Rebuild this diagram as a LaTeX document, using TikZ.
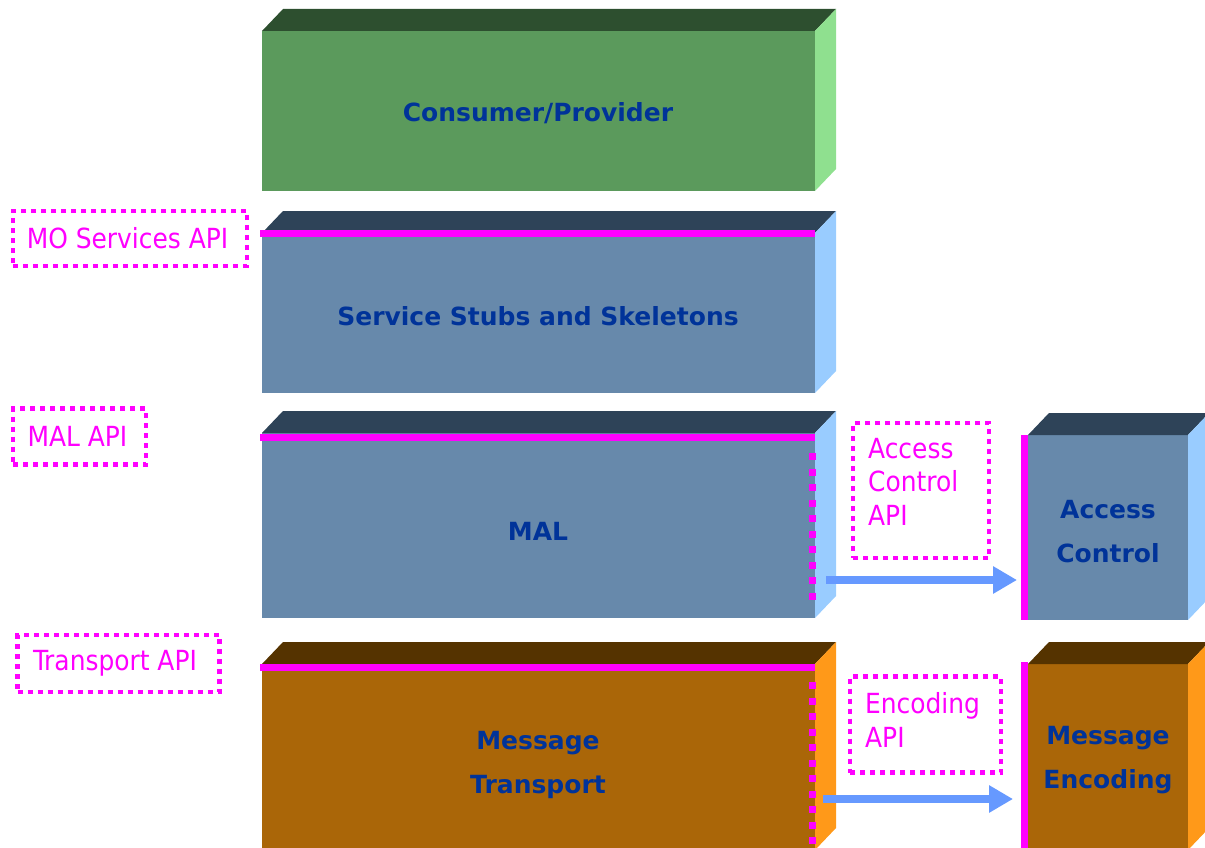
\documentclass[tikz,border=0pt]{standalone}
\usepackage{fontspec}
\setmainfont{DejaVu Sans}
\newfontfamily\apifont{DejaVu Sans Condensed}
\usetikzlibrary{arrows.meta}
\definecolor{gfront}{HTML}{5B9A5C}
\definecolor{gtop}{HTML}{2D4F2F}
\definecolor{gside}{HTML}{8FE08F}
\definecolor{bfront}{HTML}{6789AB}
\definecolor{btop}{HTML}{2E4358}
\definecolor{bside}{HTML}{99CCFF}
\definecolor{ofront}{HTML}{AA6608}
\definecolor{otop}{HTML}{553300}
\definecolor{oside}{HTML}{FF9919}
\definecolor{txtblue}{HTML}{003399}
\definecolor{mag}{HTML}{FF00FF}
\definecolor{arrblue}{HTML}{6699FF}
\tikzset{
  front/.style={inner sep=0pt, outer sep=0pt},
  boxlabel/.style={inner sep=0pt, font=\bfseries\fontsize{25}{44}\selectfont, text=txtblue, align=center},
  apibox/.style={draw=mag, line width=4.5pt, dash pattern=on 5pt off 5pt, inner sep=0pt, outer sep=0pt},
  apitext/.style={text=mag, font=\apifont\fontsize{27.7}{33.5}\selectfont, inner sep=0pt, align=left},
  apiline/.style={draw=mag, line width=7pt},
  apidots/.style={draw=mag, line width=7pt, dash pattern=on 7pt off 8.5pt},
  apiarrow/.style={draw=arrblue, line width=8pt, -{Triangle[length=24pt,width=26pt]}},
}
\newcommand{\cubefaces}[3]{%
  \fill[#2] (#1.north west) -- ++(21,-22) -- ([shift={(21,-22)}]#1.north east) -- (#1.north east) -- cycle;
  \fill[#3] (#1.north east) -- ++(21,-22) -- ([shift={(21,-22)}]#1.south east) -- (#1.south east) -- cycle;
}
\begin{document}
\begin{tikzpicture}[x=1pt,y=-1pt]
\useasboundingbox (0,0) rectangle (1205,848);
\begin{scope}
\clip (0,0) rectangle (1205,848);
% layer boxes
\node[front, fill=gfront, minimum width=553pt, minimum height=160pt] (cp) at (538.5,111) {};
\cubefaces{cp}{gtop}{gside}
\node[front, fill=bfront, minimum width=553pt, minimum height=160pt] (sss) at (538.5,313) {};
\cubefaces{sss}{btop}{bside}
\node[front, fill=bfront, minimum width=553pt, minimum height=185pt] (mal) at (538.5,525.5) {};
\cubefaces{mal}{btop}{bside}
\node[front, fill=ofront, minimum width=553pt, minimum height=186pt] (mt) at (538.5,757) {};
\cubefaces{mt}{otop}{oside}
\node[front, fill=bfront, minimum width=160pt, minimum height=185pt] (ac) at (1108,527.5) {};
\cubefaces{ac}{btop}{bside}
\node[front, fill=ofront, minimum width=160pt, minimum height=186pt] (me) at (1108,757) {};
\cubefaces{me}{otop}{oside}
\end{scope}
% box labels
\node[boxlabel] (cpl) at (538,113.5) {Consumer/Provider};
\node[boxlabel] (sssl) at (538,316) {Service Stubs and Skeletons};
\node[boxlabel] (mall) at (538,531.5) {MAL};
\node[boxlabel] (mtl) at (538,765) {Message\\Transport};
\node[boxlabel] (acl) at (1108,532) {Access\\Control};
\node[boxlabel] (mel) at (1108,760.5) {Message\\Encoding};
% API lines
\draw[apiline] ([shift={(-2,0)}]sss.north west) -- (sss.north east);
\draw[apiline] ([shift={(-2,4)}]mal.north west) -- ([shift={(0,4)}]mal.north east);
\draw[apiline] ([shift={(-2,3)}]mt.north west) -- ([shift={(0,3)}]mt.north east);
\draw[apiline] ([shift={(-3.5,0)}]ac.north west) -- ([shift={(-3.5,0)}]ac.south west);
\draw[apiline] ([shift={(-3.5,-2)}]me.north west) -- ([shift={(-3.5,0)}]me.south west);
\draw[apidots] ([shift={(-3,20)}]mal.north east) -- ([shift={(-3,-16)}]mal.south east);
\draw[apidots] ([shift={(-3,18)}]mt.north east) -- ([shift={(-3,0)}]mt.south east);
% arrows
\draw[apiarrow] ([shift={(11,-38)}]mal.south east) -- ([shift={(-11,-40)}]ac.south west);
\draw[apiarrow] ([shift={(8,-51)}]mt.south east) -- ([shift={(-15,-51)}]me.south west);
% API labels
\node[apibox, minimum width=234pt, minimum height=55pt] (moapi) at (130,238.5) {};
\node[apitext] (moapit) at (127.5,238) {MO Services API};
\node[apibox, minimum width=133pt, minimum height=56pt] (malapi) at (79.5,436.5) {};
\node[apitext] (malapit) at (77.5,436) {MAL API};
\node[apibox, minimum width=202pt, minimum height=57pt] (tapi) at (118.5,663.5) {};
\node[apitext] (tapit) at (115,663) {Transport API};
\node[apibox, minimum width=136pt, minimum height=135pt] (acapi) at (921,490.5) {};
\node[apitext, anchor=north west] (acapit) at ([shift={(15,15)}]acapi.north west) {Access\\Control\\API};
\node[apibox, minimum width=151pt, minimum height=96pt] (encapi) at (925.5,724.5) {};
\node[apitext, anchor=north west] (encapit) at ([shift={(15,16)}]encapi.north west) {Encoding\\API};
\end{tikzpicture}
\end{document}
